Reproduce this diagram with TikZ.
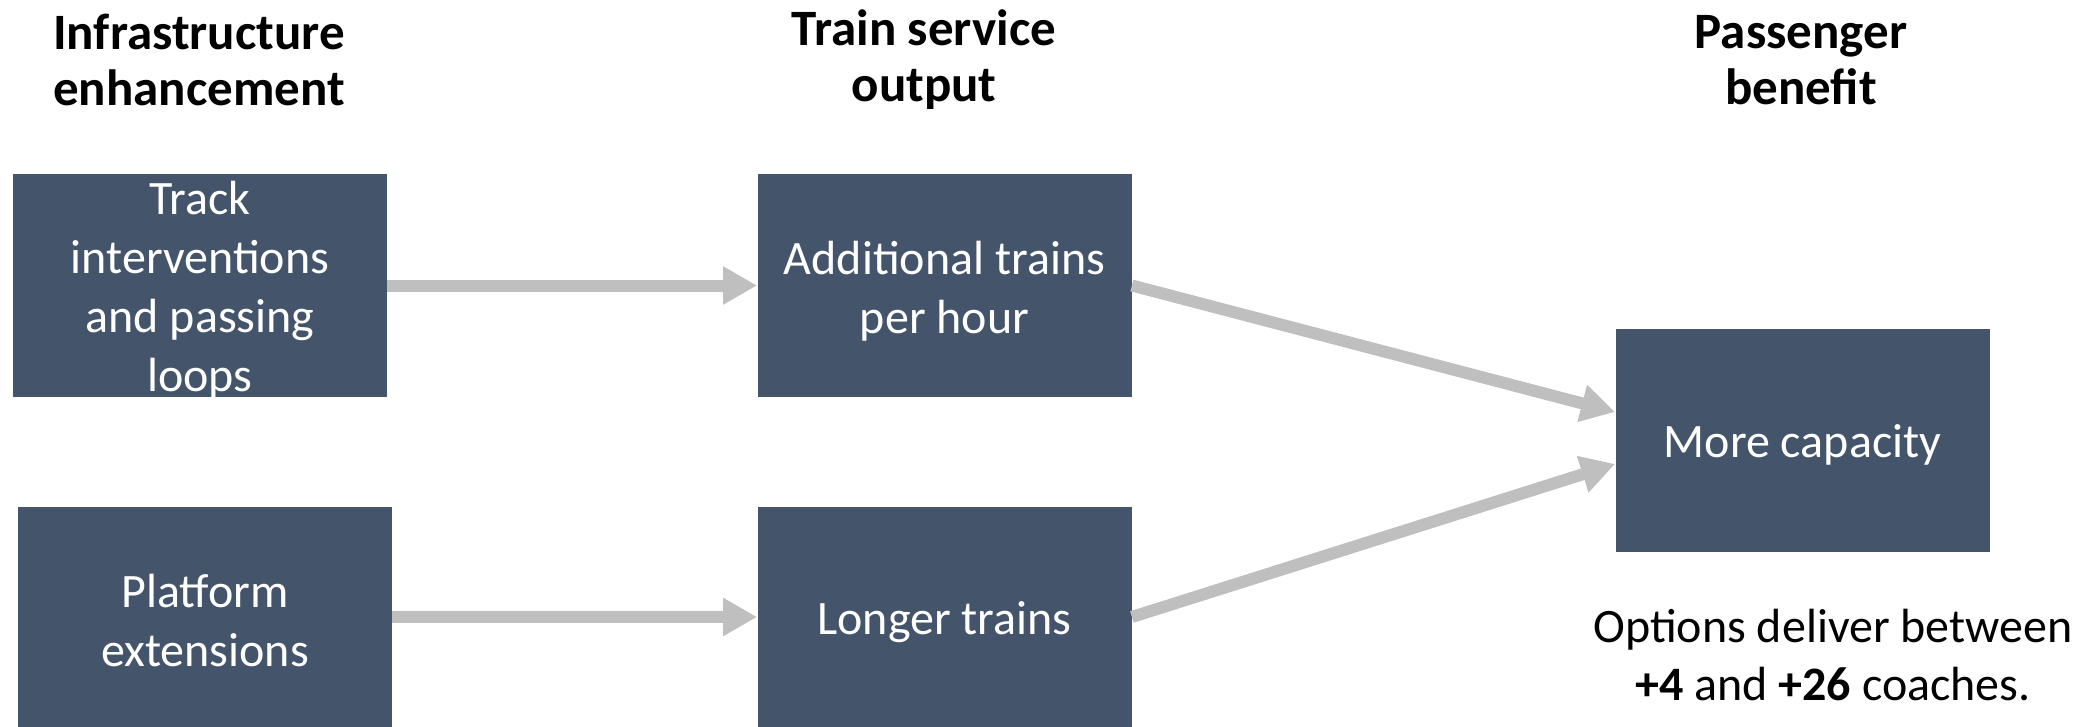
\documentclass[tikz,border=0pt]{standalone}
\usepackage{fontspec}
\setmainfont{Carlito}
\usetikzlibrary{arrows.meta}
\definecolor{boxblue}{HTML}{44546A}
\definecolor{arrowgray}{HTML}{BFBFBF}
\tikzset{
  box/.style={fill=boxblue, draw=none, inner sep=0pt, minimum width=187pt, minimum height=111.5pt},
  boxtext/.style={text=white, align=center, font=\fontsize{24}{29.5}\selectfont, inner sep=0pt},
  header/.style={text=black, align=center, font=\fontsize{25.5}{28}\selectfont\bfseries, inner sep=0pt},
  note/.style={text=black, align=center, font=\fontsize{24}{28.75}\selectfont, inner sep=0pt},
  flow/.style={draw=arrowgray, line width=6pt, -{Triangle[length=17pt,width=18pt]}}
}
\begin{document}
\begin{tikzpicture}[x=0.5pt,y=-0.5pt]
\useasboundingbox (0,0) rectangle (2097,727);
% headers
\node[header] (h1) at (199,60) {Infrastructure\\enhancement};
\node[header] (h2) at (924,60) {Train service\\output};
\node[header] (h3) at (1801,60) {Passenger\\benefit};
% boxes
\node[box] (b1) at (200,285.5) {};
\node[box, minimum height=110pt] (b2) at (205,617) {};
\node[box] (b3) at (944.5,285.5) {};
\node[box, minimum height=110pt] (b4) at (944.5,617) {};
\node[box] (b5) at (1802.5,440.5) {};
% box texts
\node[boxtext] (t1) at ([yshift=-2.5pt]b1.center) {Track\\interventions\\and passing\\loops};
\node[boxtext] (t2) at ([yshift=-2pt]b2.center) {Platform\\extensions};
\node[boxtext] (t3) at ([yshift=-3pt]b3.center) {Additional trains\\per hour};
\node[boxtext] (t4) at ([yshift=-2.5pt]b4.center) {Longer trains};
\node[boxtext] (t5) at ([yshift=-2pt]b5.center) {More capacity};
% note
\node[note] (n1) at (1833,655) {Options deliver between\\\textbf{+4} and \textbf{+26} coaches.};
% arrows
\draw[flow] (b1.east) -- (b3.west);
\draw[flow] (b2.east) -- (b4.west);
\draw[flow] (b3.east) -- ([yshift=14.25pt]b5.west);
\draw[flow] (b4.east) -- ([yshift=-11.75pt]b5.west);
\end{tikzpicture}
\end{document}
